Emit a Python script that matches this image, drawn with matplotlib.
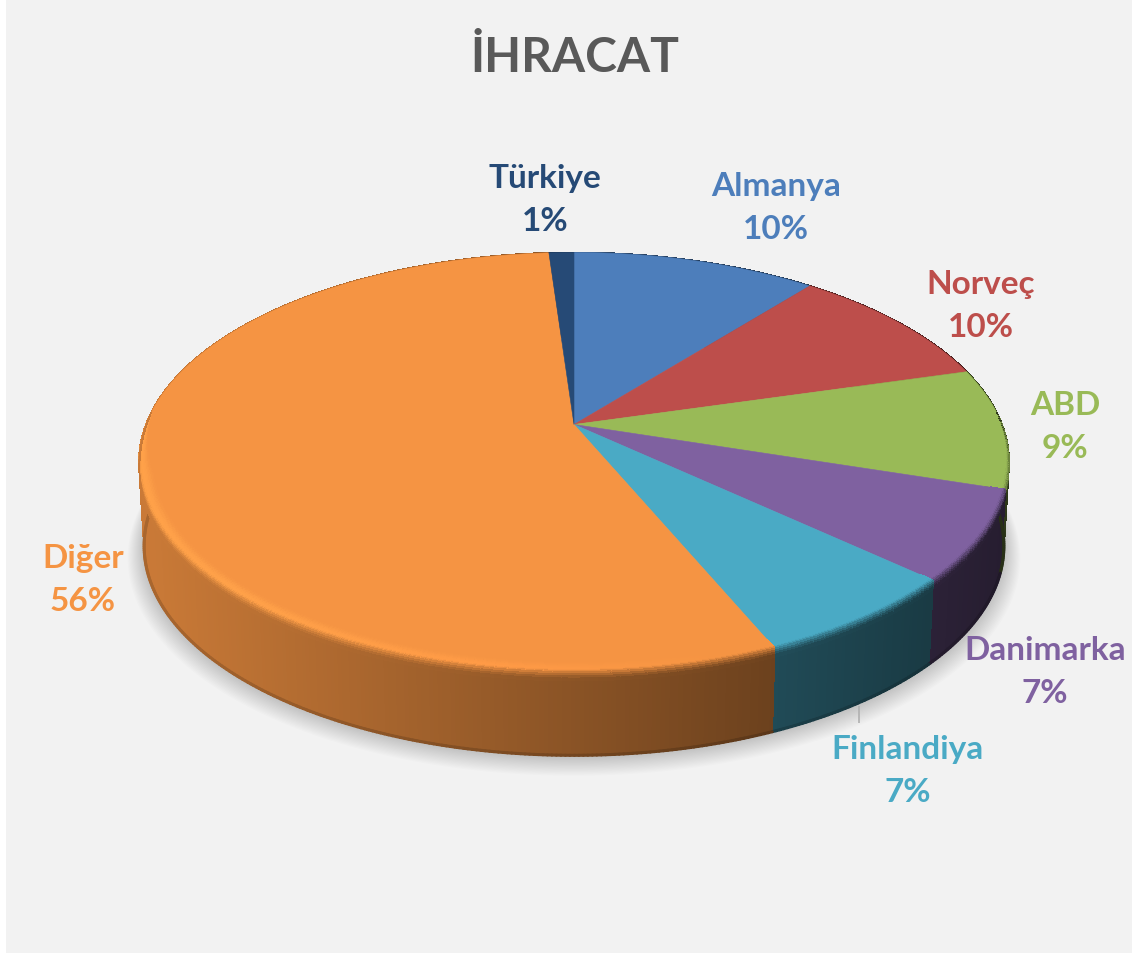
import numpy as np
import matplotlib
matplotlib.use("Agg")
import matplotlib.pyplot as plt
from matplotlib.collections import PolyCollection, LineCollection
from matplotlib.patches import Rectangle, Polygon
from matplotlib.path import Path
from matplotlib.transforms import Transform, Affine2D

# ---------- data ----------
categories = ["Almanya", "Norveç", "ABD", "Danimarka", "Finlandiya", "Diğer", "Türkiye"]
shares = [10.8, 9.8, 9.3, 6.9, 6.8, 55.3, 1.1]
percent_labels = ["10%", "10%", "9%", "7%", "7%", "56%", "1%"]
slice_colors = ["#4d7ebb", "#bd4e4b", "#99ba57", "#7f61a0", "#4aaac5", "#f59443", "#264a76"]
chart_title = "İHRACAT"

# ---------- layout ----------
plt.rcParams["font.family"] = ["Lato", "DejaVu Sans"]
W, H = 1132, 954
CX, CY, A, B, K = 574.0, 425.5, 428.0, 202.8, 0.179
DEPTH = 85.0
BOTTOM_SCALE = 0.988


class Perspective(Transform):
    """Maps the unit pie disc on to the tilted disc, in figure pixels."""
    input_dims = output_dims = 2
    is_affine = False
    has_inverse = False

    def transform_non_affine(self, xy):
        xy = np.asarray(xy, float)
        w = 1 + K * xy[:, 1]
        return np.column_stack([CX + A * xy[:, 0] / w, CY - B * xy[:, 1] / w])

    def transform_path_non_affine(self, path):
        polys = path.to_polygons(Affine2D().scale(2000), closed_only=True)
        verts = np.vstack(polys) / 2000.0
        return Path(self.transform_non_affine(verts), closed=True)


persp = Perspective()


def project(theta, r=1.0, depth=0.0):
    """theta in degrees clockwise from 12 o'clock."""
    t = np.radians(theta)
    p = persp.transform_non_affine(np.column_stack([r * np.sin(t), r * np.cos(t)]))
    if depth:
        scale = 1 + (BOTTOM_SCALE - 1) * depth / DEPTH
        p[:, 0] = CX + (p[:, 0] - CX) * scale
        p[:, 1] += depth
    return p


def wall_factor(x):
    return np.clip(0.82 - (x - 150.0) * 0.38 / 625.0, 0.30, 0.82)


def rgb(c):
    return np.array(matplotlib.colors.to_rgb(c))


def smooth(t):
    return t * t * (3 - 2 * t)


fig = plt.figure(figsize=(W / 100, H / 100), dpi=100, facecolor="white")
ax = fig.add_axes([0, 0, 1, 1])

wedges, _ = ax.pie(shares, colors=slice_colors, startangle=90, counterclock=False,
                   radius=1, center=(0, 0), frame=False,
                   wedgeprops=dict(linewidth=0.4, zorder=5))
for w, c in zip(wedges, slice_colors):
    w.set_edgecolor(c)
    w.set_transform(persp + ax.transData)

ax.set_aspect("auto")
ax.set_xlim(0, W)
ax.set_ylim(H, 0)
ax.axis("off")
ax.add_patch(Rectangle((6, 0), W - 6, H, fc="#f2f2f2", ec="none", zorder=0))

# soft shadow under the pie
rim = np.arange(0, 360, 1.0)
for i in range(16):
    sp = project(rim, depth=DEPTH)
    grow = 1 + (16 - i) * 0.0024
    sp[:, 0] = CX + (sp[:, 0] - CX) * grow
    sp[:, 1] = CY + 60 + (sp[:, 1] - CY - 60) * grow + (16 - i) * 0.55
    ax.add_patch(Polygon(sp, closed=True, fc="black", ec="none", alpha=0.010, zorder=1))

# side wall and bevel, one slice at a time
edges = np.concatenate([[0], np.cumsum(shares)]) / np.sum(shares) * 360
N_BEVEL = 14
for k, col in enumerate(slice_colors):
    th = np.arange(edges[k], edges[k + 1], 0.5)
    th = np.append(th, edges[k + 1])
    base = rgb(col)
    top = project(th)
    bot = project(th, depth=DEPTH)
    rim_line = project(th, depth=DEPTH - 1.2)
    quads, cols, segs, seg_cols = [], [], [], []
    for j in range(len(th) - 1):
        xm = 0.5 * (top[j, 0] + top[j + 1, 0])
        f = wall_factor(xm)
        quads.append([top[j], top[j + 1], bot[j + 1] - [0, 1], bot[j] - [0, 1]])
        cols.append(base * f)
        segs.append([rim_line[j], rim_line[j + 1]])
        seg_cols.append(base * f * 0.84)
    ax.add_collection(PolyCollection(quads, facecolors=cols, edgecolors=cols, linewidths=0.6,
                                     antialiaseds=False, zorder=2))
    ax.add_collection(LineCollection(segs, colors=seg_cols, linewidths=2.2, capstyle="round", zorder=2.5))

    # bevel along the front rim of the top surface
    bq, bc = [], []
    for j in range(len(th) - 1):
        v = np.cos(np.radians(0.5 * (th[j] + th[j + 1])))
        fade = np.clip((0.06 - v) / 0.3, 0, 1)
        if fade <= 0:
            continue
        xm = 0.5 * (top[j, 0] + top[j + 1, 0])
        hi = 1 + 0.09 * np.clip((720 - xm) / 500, 0, 1)
        hi_col = np.clip(base * hi, 0, 1)
        wall = base * wall_factor(xm)
        for n in range(N_BEVEL):
            t0, t1 = n / N_BEVEL, (n + 1) / N_BEVEL
            tm = 0.5 * (t0 + t1)

            def place(t):
                if t <= 0.7:
                    return 1 - (1 - t / 0.7) * 0.032 * fade, 0.0
                return 1.0, (t - 0.7) / 0.3 * 9.0 * fade

            r0, d0 = place(t0)
            r1, d1 = place(t1)
            p0 = project(th[j:j + 2], r0, d0)
            p1 = project(th[j:j + 2], r1, d1)
            bq.append([p0[0], p0[1], p1[1], p1[0]])
            if tm < 0.55:
                c = base + (hi_col - base) * smooth(tm / 0.55)
            else:
                c = hi_col + (wall - hi_col) * smooth((tm - 0.55) / 0.45)
            bc.append(c)
    if bq:
        ax.add_collection(PolyCollection(bq, facecolors=bc, edgecolors=bc, linewidths=0.5,
                                         antialiaseds=False, zorder=6))

# leader line of the Finlandiya label
ax.plot([859, 859], [707, 724], color="#b0b0b0", lw=1.2, zorder=7, solid_capstyle="butt")

# texts
ax.text(575, 58, chart_title, ha="center", va="center", fontsize=34.5, fontweight="bold",
        color="#595959", zorder=8)
label_centres = [(776, 208), (981, 306), (1065, 427), (1045, 672), (908, 771), (83, 580), (545, 200)]
for name, pct, col, (x, y) in zip(categories, percent_labels, slice_colors, label_centres):
    ax.text(x, y, f"{name}\n{pct}", ha="center", va="center", fontsize=24, fontweight="bold",
            color=col, linespacing=1.6, zorder=8)

fig.savefig("out.png", dpi=100, facecolor=fig.get_facecolor())
